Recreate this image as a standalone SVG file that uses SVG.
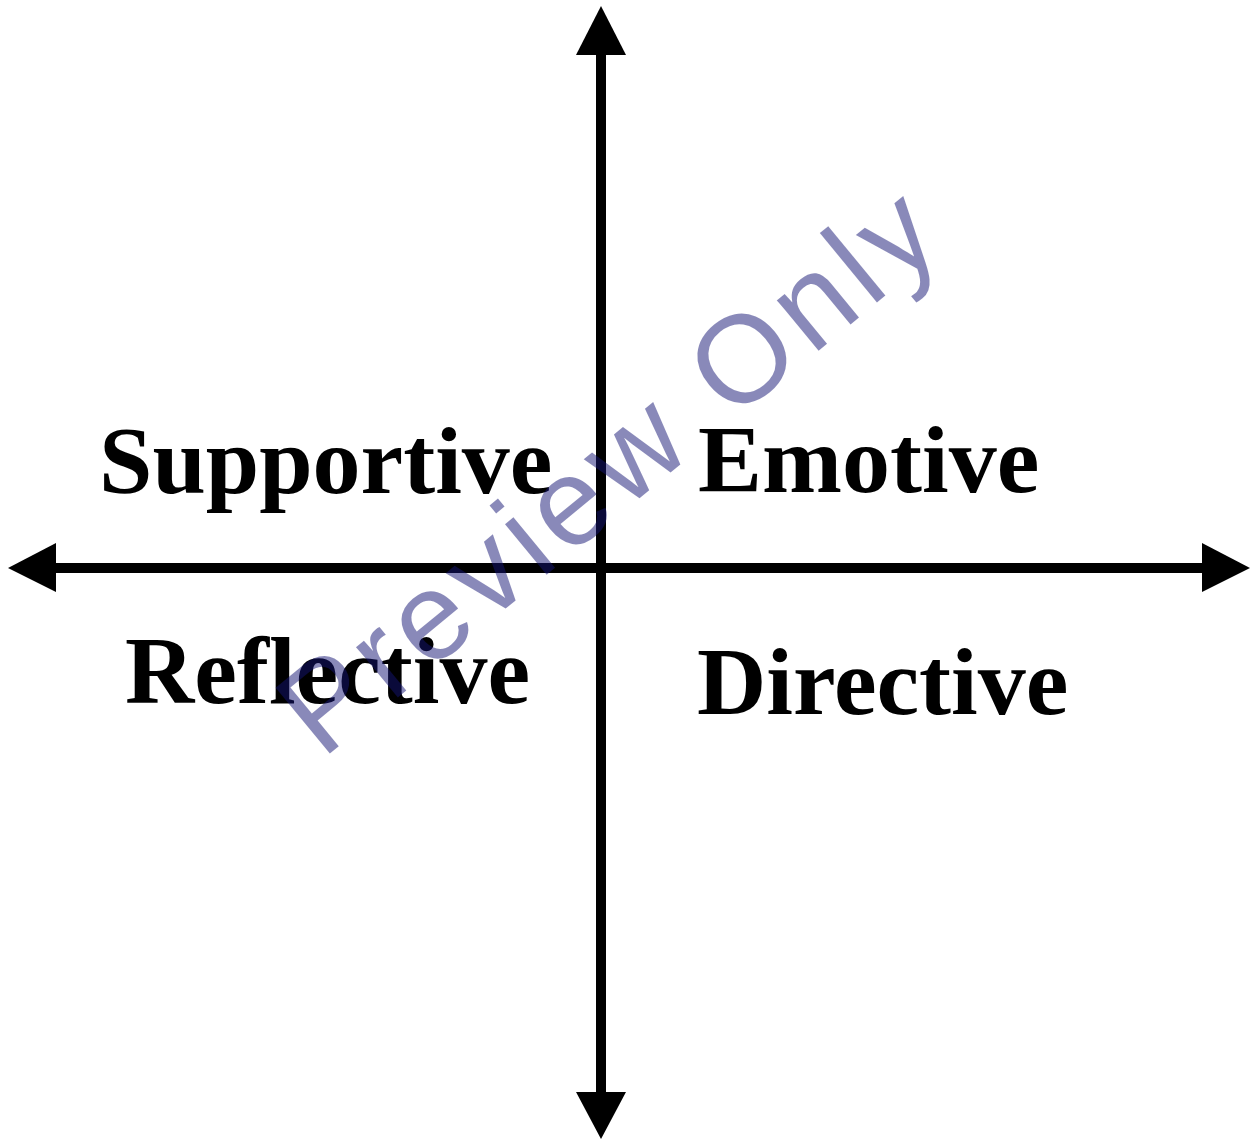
<svg xmlns="http://www.w3.org/2000/svg" width="1257" height="1139" viewBox="0 0 1257 1139">
<style>
.axis{stroke:#000;stroke-width:10;fill:none}
.head{fill:#000}
.lbl{font-family:"Liberation Serif","Times New Roman",serif;font-weight:bold;font-size:96px;fill:#000}
.wm{font-family:"Liberation Sans",Arial,sans-serif;font-size:124px;fill:#141473;fill-opacity:0.5}
</style>
<rect width="1257" height="1139" fill="#fff"/>
<g id="connectors">
<line class="axis" x1="601" y1="50" x2="601" y2="1095"/>
<line class="axis" x1="52" y1="568" x2="1205" y2="568"/>
<polygon class="head" points="601,6 576,55 626,55"/>
<polygon class="head" points="601,1139 576,1092 626,1092"/>
<polygon class="head" points="8,568 56,543 56,592"/>
<polygon class="head" points="1250,568 1202,543 1202,592"/>
</g>
<g id="supportive"><text class="lbl" x="99" y="493">Supportive</text></g>
<g id="emotive"><text class="lbl" x="698" y="492">Emotive</text></g>
<g id="reflective"><text class="lbl" x="125" y="703">Reflective</text></g>
<g id="directive"><text class="lbl" x="697" y="714">Directive</text></g>
<g id="watermark"><text class="wm" transform="translate(322,760) rotate(-39.5)" letter-spacing="7">Preview Only</text></g>
</svg>
